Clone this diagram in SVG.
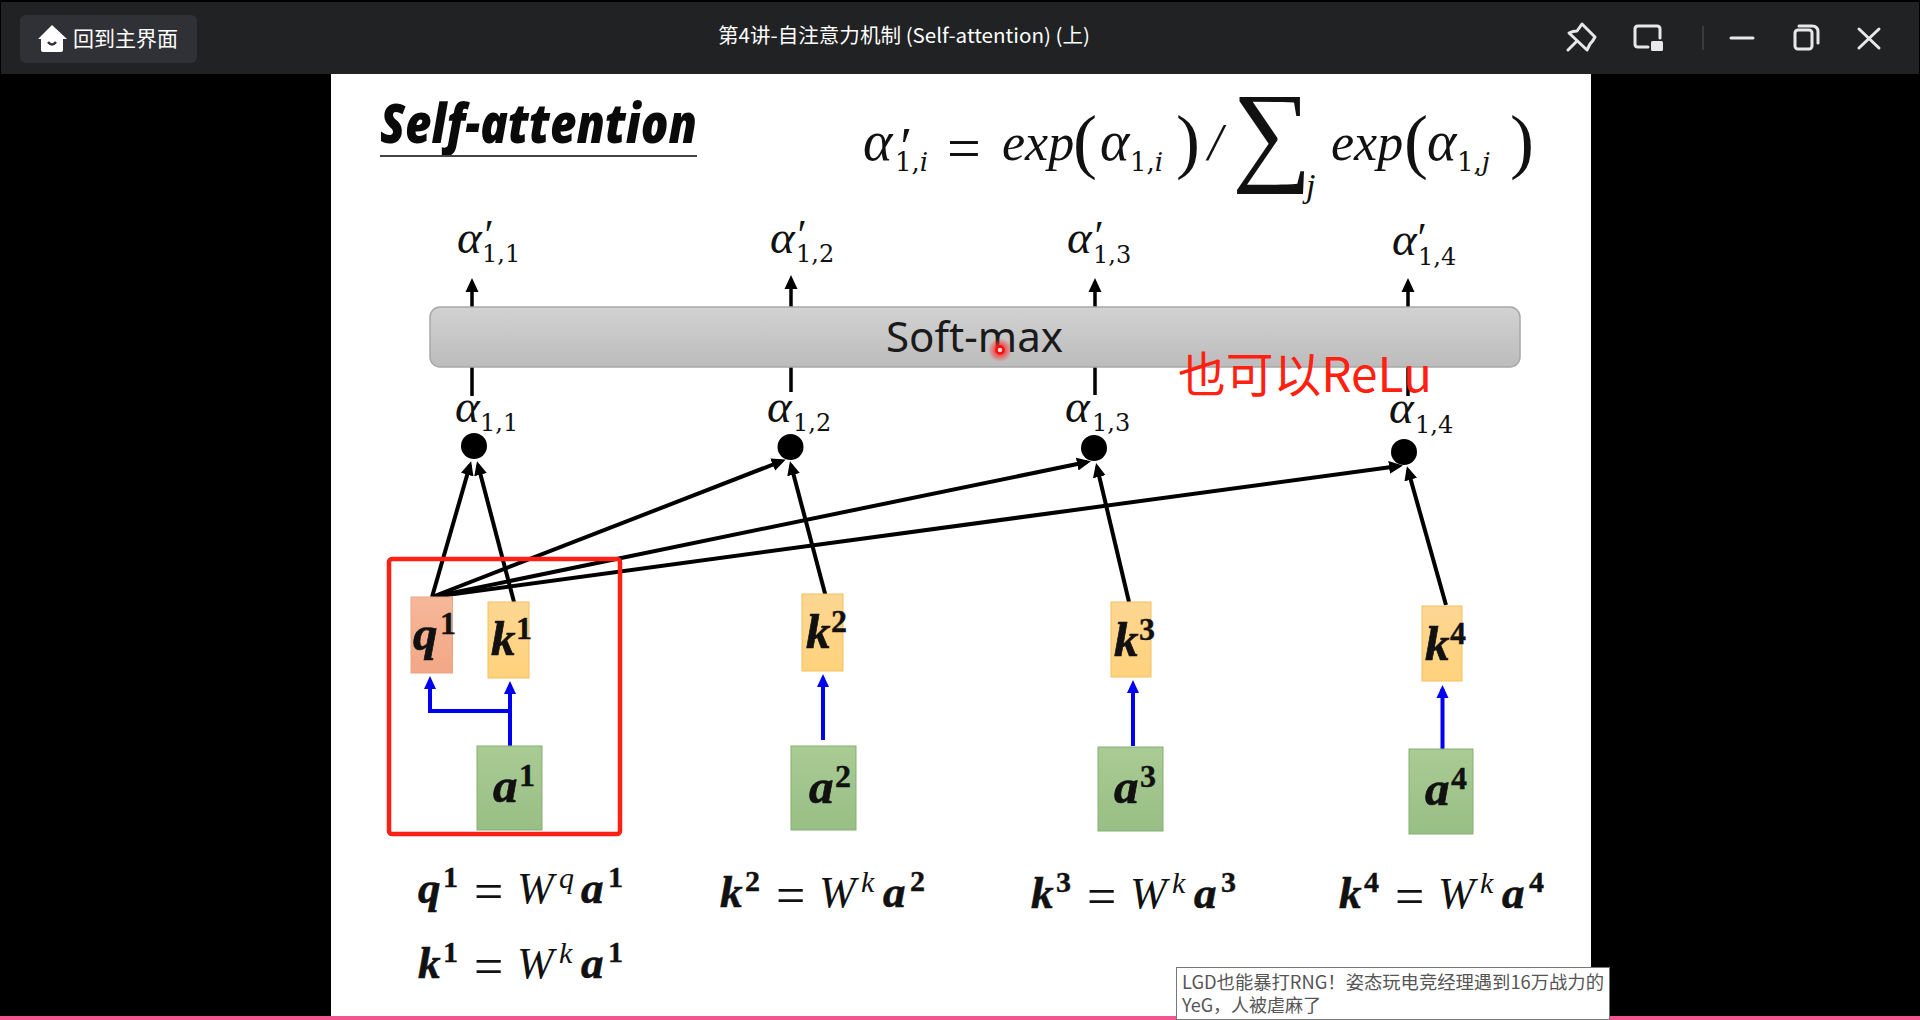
<svg xmlns="http://www.w3.org/2000/svg" width="1920" height="1020" viewBox="0 0 1920 1020">
<style>
.m{font-family:"Liberation Serif","DejaVu Serif",serif;fill:#111}
.d{font-family:"DejaVu Serif","Liberation Serif",serif;fill:#111}
.i{font-style:italic}
.al{font-size:47px;font-style:italic}
.sb{font-size:24px}
.pr{font-size:42px;font-style:italic}
.nl{font-size:49px;font-weight:bold;font-style:italic;stroke:#111;stroke-width:.7}
.ns{font-size:32px;font-weight:bold;stroke:#111;stroke-width:.4}
.fb{font-size:45px;font-weight:bold;font-style:italic;stroke:#111;stroke-width:.6}
.fs{font-size:30px;font-weight:bold;stroke:#111;stroke-width:.4}
.fr{font-size:52px}
.fw{font-size:44px;font-style:italic}
.fk{font-size:30px;font-style:italic}
.bk{stroke:#000;stroke-width:4;fill:none}
.bl{stroke:#0000f0;stroke-width:4;fill:none}
.up{stroke:#000;stroke-width:3.5;fill:none}
.cjk{font-family:"Noto Sans CJK SC","Noto Sans",sans-serif}
.ic{stroke:#e8e8e8;stroke-width:3;fill:none;stroke-linecap:round;stroke-linejoin:round}
.q{fill:url(#gq);stroke:#e5a585;stroke-width:1}
.k{fill:url(#gk);stroke:#f2c060;stroke-width:1}
.a{fill:url(#ga);stroke:#86ad73;stroke-width:1}
</style>
<defs>
<linearGradient id="gq" x1="0" y1="0" x2="0" y2="1"><stop offset="0" stop-color="#f6b799"/><stop offset="1" stop-color="#f2a785"/></linearGradient>
<linearGradient id="gk" x1="0" y1="0" x2="0" y2="1"><stop offset="0" stop-color="#fdd692"/><stop offset="1" stop-color="#ffd27c"/></linearGradient>
<linearGradient id="ga" x1="0" y1="0" x2="0" y2="1"><stop offset="0" stop-color="#aacb94"/><stop offset="1" stop-color="#98bf85"/></linearGradient>
<linearGradient id="gs" x1="0" y1="0" x2="0" y2="1"><stop offset="0" stop-color="#d2d2d2"/><stop offset="1" stop-color="#bcbcbc"/></linearGradient>
<radialGradient id="glow"><stop offset="0.4" stop-color="#ff3030" stop-opacity=".8"/><stop offset="1" stop-color="#ff3030" stop-opacity="0"/></radialGradient>
<marker id="ab" markerUnits="userSpaceOnUse" markerWidth="16" markerHeight="14" refX="10" refY="7" orient="auto"><path d="M0 0.5L14 7L0 13.5z" fill="#000"/></marker>
<marker id="au" markerUnits="userSpaceOnUse" markerWidth="16" markerHeight="14" refX="9" refY="7" orient="auto"><path d="M0 1L13 7L0 13z" fill="#0000f0"/></marker>
</defs>

<rect width="1920" height="1020" fill="#000"/>
<rect id="slide" x="331" y="74" width="1260" height="943" fill="#fff"/>
<rect x="0" y="1016" width="1920" height="4" fill="#f2558f"/>

<g id="titlebar">
<rect x="1" y="2" width="1918" height="72" fill="#212224"/>
<rect x="20" y="15" width="177" height="48" rx="6" fill="#303136"/>
<path d="M52 25L67 39H63V50Q63 52 61 52H43Q41 52 41 50V39H38z" fill="#fff"/>
<path d="M48 42Q52 47 56 42" stroke="#303136" stroke-width="2.5" fill="none"/>
<text class="cjk" x="73" y="46" font-size="21" fill="#fff">回到主界面</text>
<text class="cjk" x="718" y="43" font-size="20" fill="#fff" textLength="372" lengthAdjust="spacingAndGlyphs">第4讲-自注意力机制 (Self-attention) (上)</text>
<path class="ic" d="M1582 24L1595 37Q1593 41 1590 44L1587 50L1569 33Q1573 31 1577 31z"/>
<path class="ic" d="M1576 42L1568 50"/>
<path class="ic" d="M1648 47H1638Q1635 47 1635 44V29Q1635 26 1638 26H1657Q1660 26 1660 29V38"/>
<rect x="1651" y="41" width="12" height="10" rx="1.5" fill="#e8e8e8"/>
<rect x="1702.5" y="26" width="1" height="24" fill="#555"/>
<path class="ic" d="M1731 38H1753"/>
<rect class="ic" x="1795" y="30" width="17" height="19" rx="3"/>
<path class="ic" d="M1799 26H1812Q1818 26 1818 32V43"/>
<path class="ic" d="M1859 29L1879 48M1879 29L1859 48"/>
</g>

<g id="title">
<text x="380" y="143" font-family="Open Sans,Noto Sans,sans-serif" font-size="54" font-weight="800" font-style="italic" fill="#0a0a0a" textLength="317" lengthAdjust="spacingAndGlyphs">Self-attention</text>
<rect x="380" y="155" width="317" height="2" fill="#444"/>
</g>

<g id="formula">
<text class="m" x="863" y="160" font-size="56" font-style="italic">α</text><text class="m" x="897" y="165" font-size="54" font-style="italic">′</text><text class="d" x="895" y="171" font-size="26">1,<tspan class="i">i</tspan></text>
<text class="m" x="947" y="168" font-size="60">=</text>
<text class="m i" x="1002" y="160" font-size="52">exp</text>
<text class="m" x="1073" y="165" font-size="72">(</text>
<text class="m" x="1100" y="160" font-size="56" font-style="italic">α</text><text class="d" x="1130" y="171" font-size="26">1,<tspan class="i">i</tspan></text>
<text class="m" x="1176" y="165" font-size="72">)</text>
<text class="m i" x="1208" y="160" font-size="52">/</text>
<text class="m" x="1232" y="170" font-size="112">∑</text>
<text class="m i" x="1306" y="197" font-size="34">j</text>
<text class="m i" x="1331" y="160" font-size="52">exp</text>
<text class="m" x="1404" y="165" font-size="72">(</text>
<text class="m" x="1427" y="160" font-size="56" font-style="italic">α</text><text class="d" x="1457" y="171" font-size="26">1,<tspan class="i">j</tspan></text>
<text class="m" x="1510" y="165" font-size="72">)</text>
</g>

<g id="connectors">
<path class="up" d="M472 307V282" marker-end="url(#ab)"/>
<path class="up" d="M791 307V279" marker-end="url(#ab)"/>
<path class="up" d="M1095 307V282" marker-end="url(#ab)"/>
<path class="up" d="M1408 307V282" marker-end="url(#ab)"/>
<path class="up" d="M472 367V396M791 367V392M1095 367V395M1408 367V396"/>
<path class="bk" d="M432 597L470 465" marker-end="url(#ab)"/>
<path class="bk" d="M514 602L478 465" marker-end="url(#ab)"/>
<path class="bk" d="M432 597L782 461" marker-end="url(#ab)"/>
<path class="bk" d="M432 597L1087 462" marker-end="url(#ab)"/>
<path class="bk" d="M432 597L1399 466" marker-end="url(#ab)"/>
<path class="bk" d="M827 601L791 465" marker-end="url(#ab)"/>
<path class="bk" d="M1129 602L1097 467" marker-end="url(#ab)"/>
<path class="bk" d="M1446 605L1408 470" marker-end="url(#ab)"/>
<path class="bl" d="M510 746V685" marker-end="url(#au)"/>
<path class="bl" d="M510 711H430V680" marker-end="url(#au)"/>
<path class="bl" d="M823 740V678" marker-end="url(#au)"/>
<path class="bl" d="M1133 746V684" marker-end="url(#au)"/>
<path class="bl" d="M1442.5 750V689" marker-end="url(#au)"/>
</g>

<g id="softmax">
<rect x="430" y="307" width="1090" height="60" rx="10" fill="url(#gs)" stroke="#a8a8a8" stroke-width="1.5"/>
<text x="886" y="352" font-family="Noto Sans,Open Sans,sans-serif" font-size="42" fill="#1a1a1a" textLength="177" lengthAdjust="spacingAndGlyphs">Soft-max</text>
</g>

<g id="a11p"><text class="m al" x="457" y="253">α</text><text class="m pr" x="482" y="249">′</text><text class="d sb" x="482" y="262">1,1</text></g>
<g id="a12p"><text class="m al" x="770" y="253">α</text><text class="m pr" x="795" y="249">′</text><text class="d sb" x="796" y="262">1,2</text></g>
<g id="a13p"><text class="m al" x="1067" y="253">α</text><text class="m pr" x="1092" y="250">′</text><text class="d sb" x="1093" y="263">1,3</text></g>
<g id="a14p"><text class="m al" x="1392" y="255">α</text><text class="m pr" x="1415" y="252">′</text><text class="d sb" x="1418" y="265">1,4</text></g>

<g id="a11"><text class="m al" x="455" y="422">α</text><text class="d sb" x="480" y="431">1,1</text><circle cx="474" cy="446" r="13" fill="#000"/></g>
<g id="a12"><text class="m al" x="767" y="422">α</text><text class="d sb" x="793" y="431">1,2</text><circle cx="790.500" cy="447" r="13" fill="#000"/></g>
<g id="a13"><text class="m al" x="1065" y="422">α</text><text class="d sb" x="1092" y="431">1,3</text><circle cx="1094" cy="448" r="13" fill="#000"/></g>
<g id="a14"><text class="m al" x="1389" y="423">α</text><text class="d sb" x="1415" y="433">1,4</text><circle cx="1404" cy="452" r="13" fill="#000"/></g>

<g id="q1"><rect class="q" x="411" y="597" width="41.500" height="76"/><text class="m nl" x="413" y="650">q</text><text class="m ns" x="440" y="634">1</text></g>
<g id="k1"><rect class="k" x="488" y="602" width="41" height="76"/><text class="m nl" x="491" y="655">k</text><text class="m ns" x="516" y="639">1</text></g>
<g id="a1"><rect class="a" x="477" y="746" width="65" height="84"/><text class="m nl" x="493" y="802">a</text><text class="m ns" x="519" y="786">1</text></g>
<g id="k2"><rect class="k" x="802" y="594" width="41" height="77"/><text class="m nl" x="806" y="648">k</text><text class="m ns" x="831" y="632">2</text></g>
<g id="a2"><rect class="a" x="791" y="746" width="65" height="84"/><text class="m nl" x="809" y="803">a</text><text class="m ns" x="835" y="787">2</text></g>
<g id="k3"><rect class="k" x="1111" y="602" width="40" height="75"/><text class="m nl" x="1114" y="656">k</text><text class="m ns" x="1139" y="640">3</text></g>
<g id="a3"><rect class="a" x="1098" y="747" width="65" height="84"/><text class="m nl" x="1114" y="803">a</text><text class="m ns" x="1140" y="787">3</text></g>
<g id="k4"><rect class="k" x="1422" y="606" width="40" height="75"/><text class="m nl" x="1425" y="660">k</text><text class="m ns" x="1450" y="644">4</text></g>
<g id="a4"><rect class="a" x="1409" y="749" width="64" height="85"/><text class="m nl" x="1425" y="805">a</text><text class="m ns" x="1451" y="789">4</text></g>

<g id="highlight"><rect x="389" y="559" width="231" height="275" rx="3" fill="none" stroke="#ff2015" stroke-width="4.500"/></g>

<g id="eq-q1" transform="translate(418 903)"><text class="m fb">q</text><text class="m fs" x="25" y="-16">1</text><text class="m fr" x="56" y="6">=</text><text class="m fw" x="99">W</text><text class="m fk" x="141" y="-15">q</text><text class="m fb" x="163">a</text><text class="m fs" x="190" y="-16">1</text></g>
<g id="eq-k1" transform="translate(418 978)"><text class="m fb">k</text><text class="m fs" x="25" y="-16">1</text><text class="m fr" x="56" y="6">=</text><text class="m fw" x="99">W</text><text class="m fk" x="141" y="-15">k</text><text class="m fb" x="163">a</text><text class="m fs" x="190" y="-16">1</text></g>
<g id="eq-k2" transform="translate(720 907)"><text class="m fb">k</text><text class="m fs" x="25" y="-16">2</text><text class="m fr" x="56" y="6">=</text><text class="m fw" x="99">W</text><text class="m fk" x="141" y="-15">k</text><text class="m fb" x="163">a</text><text class="m fs" x="190" y="-16">2</text></g>
<g id="eq-k3" transform="translate(1031 908)"><text class="m fb">k</text><text class="m fs" x="25" y="-16">3</text><text class="m fr" x="56" y="6">=</text><text class="m fw" x="99">W</text><text class="m fk" x="141" y="-15">k</text><text class="m fb" x="163">a</text><text class="m fs" x="190" y="-16">3</text></g>
<g id="eq-k4" transform="translate(1339 908)"><text class="m fb">k</text><text class="m fs" x="25" y="-16">4</text><text class="m fr" x="56" y="6">=</text><text class="m fw" x="99">W</text><text class="m fk" x="141" y="-15">k</text><text class="m fb" x="163">a</text><text class="m fs" x="190" y="-16">4</text></g>

<g id="relu-note"><text x="1178" y="392" font-family="Noto Sans CJK SC,Noto Sans,sans-serif" font-size="48" fill="#ff2010" textLength="254" lengthAdjust="spacingAndGlyphs">也可以ReLu</text></g>

<g id="cursor"><circle cx="1000" cy="350" r="12" fill="url(#glow)"/><circle cx="1000" cy="350" r="3.500" fill="#ffd0d0" stroke="#f01010" stroke-width="2.500"/></g>

<g id="tooltip">
<rect x="1176.500" y="967.500" width="433" height="52" fill="#fff" stroke="#777" stroke-width="1"/>
<text class="cjk" x="1182" y="989" font-size="18" fill="#555" textLength="422" lengthAdjust="spacingAndGlyphs">LGD也能暴打RNG！姿态玩电竞经理遇到16万战力的</text>
<text class="cjk" x="1182" y="1012" font-size="18" fill="#555">YeG，人被虐麻了</text>
</g>
</svg>
